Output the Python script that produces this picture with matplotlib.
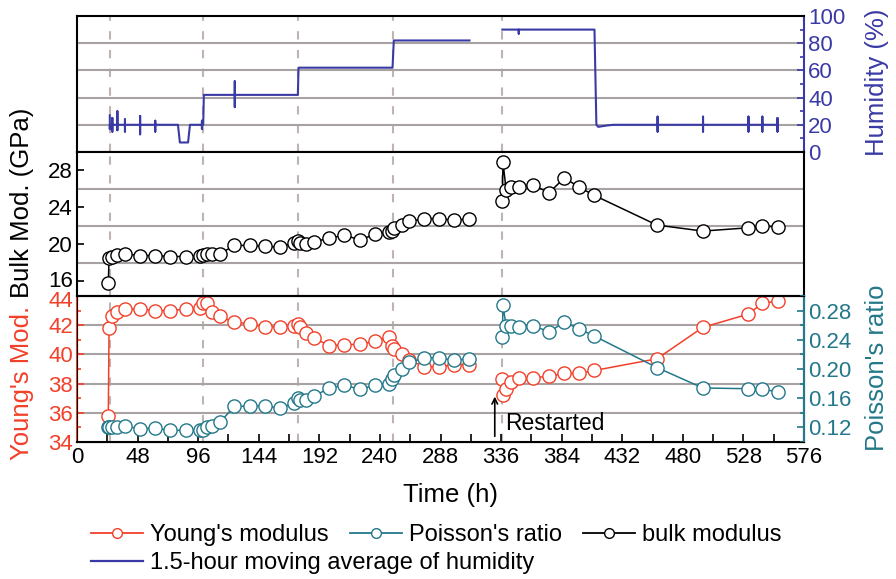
import matplotlib
matplotlib.use('Agg')
import matplotlib.pyplot as plt
import matplotlib.transforms as mtransforms
from matplotlib.lines import Line2D
from matplotlib.ticker import MultipleLocator, FixedLocator, FormatStrFormatter

plt.rcParams['font.family'] = ['Liberation Sans', 'DejaVu Sans']

# ---- data ----
# first run (hours)
time_a = [24.8, 25.4, 27.5, 31.4, 38, 50, 61.8, 73.7, 86.1, 97.5, 100, 102.7,
          106.7, 113.3, 124.7, 137, 149, 160.9, 172.2, 174.9, 176.5, 181.5, 188,
          200, 211.8, 224.2, 236.1, 247.5, 249.5, 251.5, 257.3, 263.3, 275.2,
          287.1, 299, 310.9]
bulk_a = [15.8, 18.5, 18.7, 18.9, 19.0, 18.8, 18.8, 18.7, 18.7, 18.8, 18.9, 19.0,
          19.0, 19.0, 19.9, 19.9, 19.8, 19.7, 20.2, 20.4, 20.2, 20.1, 20.3,
          20.7, 21.0, 20.5, 21.1, 21.3, 21.5, 21.8, 22.1, 22.5, 22.8,
          22.8, 22.6, 22.8]
young_a = [35.8, 41.8, 42.6, 42.9, 43.1, 43.1, 43.0, 43.0, 43.1, 43.15, 43.5, 43.5,
           42.9, 42.6, 42.2, 42.1, 41.85, 41.9, 41.95, 42.05, 41.9, 41.5, 41.1,
           40.6, 40.65, 40.7, 40.9, 41.2, 40.6, 40.4, 40.0, 39.6, 39.15,
           39.15, 39.3, 39.3]
poisson_a = [0.121, 0.120, 0.120, 0.120, 0.122, 0.118, 0.119, 0.116, 0.116, 0.117, 0.116, 0.120,
             0.122, 0.127, 0.149, 0.149, 0.150, 0.146, 0.154, 0.160, 0.157, 0.157, 0.163,
             0.174, 0.178, 0.172, 0.178, 0.180, 0.186, 0.192, 0.200, 0.209, 0.215,
             0.215, 0.212, 0.214]

# after restart
time_b = [337, 337.5, 340, 343.6, 350, 361.6, 374, 386.2, 397.8, 410, 459.5,
          495.8, 531.5, 543, 555.7]
bulk_b = [24.7, 28.9, 25.9, 26.2, 26.25, 26.4, 25.6, 27.2, 26.2, 25.3, 22.1,
          21.45, 21.8, 22.0, 21.9]
young_b = [38.3, 37.2, 37.65, 38.1, 38.35, 38.4, 38.5, 38.7, 38.7, 38.9, 39.7,
           41.85, 42.75, 43.5, 43.65]
poisson_b = [0.244, 0.287, 0.259, 0.259, 0.258, 0.259, 0.251, 0.264, 0.255, 0.245, 0.202,
             0.174, 0.173, 0.172, 0.169]

# humidity, 1.5-hour moving average (%)
hum_time_a = [26, 26, 26, 28, 28, 28, 28, 32, 32, 32, 32, 38, 38, 38, 38,
              50, 50, 50, 50, 62, 62, 62, 62, 80, 81.5, 88, 89.5,
              99, 99, 99, 99, 100, 100.5, 125, 125, 125, 125,
              175, 175.5, 250, 251, 311]
hum_a = [27, 17, 20, 20, 25, 15, 20, 20, 30, 16, 20, 20, 24, 15, 20,
         20, 26.5, 13, 20, 20, 23, 15, 20, 20, 7, 7, 20,
         20, 23, 17, 20, 20, 42, 42, 52, 33, 42,
         42, 62, 62, 82, 82]
hum_time_b = [337, 350, 350, 350, 410, 411.5, 413, 420, 425,
              460, 460, 460, 460, 496, 496, 496, 496, 532, 532, 532, 532,
              543, 543, 543, 543, 555, 555, 555, 555]
hum_b = [90, 90, 87, 90, 90, 20, 18.5, 19.5, 20,
         20, 26, 15, 20, 20, 26, 15, 20, 20, 26, 15, 20,
         20, 26, 15, 20, 20, 25, 15, 20]

step_times = [26, 100, 175, 250, 337]

RED = '#f2402a'
TEAL = '#23788a'
BLUE = '#3a3aa6'
GRID = '#a8a2a2'
DASH = '#c0b4b0'

W, H = 896, 579
fig = plt.figure(figsize=(W / 100, H / 100), dpi=100)


def box(top, bottom):
    return [77 / W, 1 - bottom / H, (804 - 77) / W, (bottom - top) / H]


ax_h = fig.add_axes(box(16, 152))
ax_k = fig.add_axes(box(152, 296), sharex=ax_h)
ax_e = fig.add_axes(box(296, 442), sharex=ax_h)
ax_p = ax_e.twinx()

TICK_FS = 16
LABEL_FS = 18.5

for ax in (ax_h, ax_k, ax_e):
    for x in step_times:
        ax.axvline(x, color=DASH, ls=(0, (4, 5)), lw=1.5, zorder=0)
    for s in ax.spines.values():
        s.set_linewidth(1.5)
ax_p.spines['right'].set_linewidth(1.5)

# grid lines
for y in [20, 40, 60, 80]:
    ax_h.axhline(y, color=GRID, lw=1.5, zorder=0)
for y in [18, 22, 26]:
    ax_k.axhline(y, color=GRID, lw=1.5, zorder=0)
for y in [36, 38, 40, 42]:
    ax_e.axhline(y, color=GRID, lw=1.5, zorder=0)

# humidity panel
ax_h.plot(hum_time_a, hum_a, color=BLUE, lw=1.5)
ax_h.plot(hum_time_b, hum_b, color=BLUE, lw=1.5)
ax_h.set_ylim(0, 100)
ax_h.yaxis.tick_right()
ax_h.yaxis.set_major_locator(MultipleLocator(20))
ax_h.yaxis.set_minor_locator(MultipleLocator(10))
ax_h.tick_params(axis='y', which='both', direction='in', colors=BLUE,
                 labelsize=TICK_FS, length=5, width=1.2, pad=3)
ax_h.tick_params(axis='y', which='minor', length=3)
ax_h.tick_params(axis='x', which='both', bottom=False, labelbottom=False)
ax_h.spines['right'].set_color(BLUE)

# bulk modulus panel
mk = dict(marker='o', mfc='white', ms=9.5, mew=1.0, lw=1.1)
ax_k.plot(time_a, bulk_a, color='black', **mk)
ax_k.plot(time_b, bulk_b, color='black', **mk)
ax_k.set_ylim(14.43, 30)
ax_k.yaxis.set_major_locator(MultipleLocator(4))
ax_k.tick_params(axis='y', direction='in', labelsize=TICK_FS, length=5, width=1.2, pad=3)
ax_k.tick_params(axis='x', which='both', bottom=False, labelbottom=False)

# Young's modulus / Poisson's ratio panel
ax_e.plot(time_a, young_a, color=RED, mec=RED, **mk)
ax_e.plot(time_b, young_b, color=RED, mec=RED, **mk)
ax_p.plot(time_a, poisson_a, color=TEAL, mec=TEAL, **mk)
ax_p.plot(time_b, poisson_b, color=TEAL, mec=TEAL, **mk)
ax_e.set_ylim(34, 44)
ax_e.yaxis.set_major_locator(MultipleLocator(2))
ax_e.yaxis.set_minor_locator(MultipleLocator(1))
ax_e.tick_params(axis='y', which='both', direction='in', colors=RED,
                 labelsize=TICK_FS, length=5, width=1.2, pad=3)
ax_e.tick_params(axis='y', which='minor', length=3)
ax_e.spines['left'].set_color(RED)
ax_p.set_ylim(0.10, 0.30)
ax_p.yaxis.set_major_locator(FixedLocator([0.12, 0.16, 0.20, 0.24, 0.28]))
ax_p.yaxis.set_minor_locator(FixedLocator([0.10, 0.14, 0.18, 0.22, 0.26, 0.30]))
ax_p.yaxis.set_major_formatter(FormatStrFormatter('%.2f'))
ax_p.tick_params(axis='y', which='both', direction='in', colors=TEAL,
                 labelsize=TICK_FS, length=5, width=1.2, pad=3)
ax_p.tick_params(axis='y', which='minor', length=3)
ax_p.spines['right'].set_color(TEAL)

ax_e.set_xlim(0, 576)
ax_e.xaxis.set_major_locator(MultipleLocator(48))
ax_e.xaxis.set_minor_locator(MultipleLocator(24))
ax_e.tick_params(axis='x', which='both', direction='in', labelsize=TICK_FS,
                 length=6, width=1.2)

# the "16" and "44" labels sit right on top of each other: nudge them apart a bit
fig.canvas.draw()
for lab in ax_k.get_yticklabels():
    if lab.get_text() == '16':
        lab.set_transform(lab.get_transform() +
                          mtransforms.ScaledTranslation(0, 2 / 72, fig.dpi_scale_trans))
for lab in ax_e.get_yticklabels():
    if lab.get_text() == '44':
        lab.set_transform(lab.get_transform() +
                          mtransforms.ScaledTranslation(0, -2 / 72, fig.dpi_scale_trans))

ax_e.annotate('', xy=(331, 37.3), xytext=(331, 34.2),
              arrowprops=dict(arrowstyle='->', color='black', lw=1.2))
ax_e.text(339, 35.3, 'Restarted', va='center', fontsize=16.5)

# axis titles
fig.text(22 / W, 1 - 460 / H, "Young's Mod.", rotation=90, color=RED,
         ha='center', va='bottom', fontsize=LABEL_FS)
fig.text(22 / W, 1 - 298 / H, "Bulk Mod. (GPa)", rotation=90, color='black',
         ha='center', va='bottom', fontsize=LABEL_FS)
fig.text(877 / W, 1 - 82 / H, "Humidity (%)", rotation=90, color=BLUE,
         ha='center', va='center', fontsize=LABEL_FS)
fig.text(877 / W, 1 - 368 / H, "Poisson's ratio", rotation=90, color=TEAL,
         ha='center', va='center', fontsize=LABEL_FS)
fig.text(450 / W, 1 - 495 / H, "Time (h)", ha='center', va='center',
         fontsize=LABEL_FS)

# legends
lk = dict(marker='o', mfc='white', ms=7, lw=1.3)
handles1 = [Line2D([], [], color=RED, **lk, label="Young's modulus"),
            Line2D([], [], color=TEAL, **lk, label="Poisson's ratio"),
            Line2D([], [], color='black', **lk, label='bulk modulus')]
handles2 = [Line2D([], [], color=BLUE, lw=1.6,
                   label='1.5-hour moving average of humidity')]
leg_kw = dict(frameon=False, fontsize=17, handlelength=2.2, handletextpad=0.3,
              columnspacing=0.9, borderaxespad=0, borderpad=0, loc='center left')
fig.legend(handles=handles1, ncol=3, bbox_to_anchor=(91 / W, 1 - 535 / H), **leg_kw)
fig.legend(handles=handles2, bbox_to_anchor=(91 / W, 1 - 563 / H), **leg_kw)

fig.savefig('out.png', dpi=100)
